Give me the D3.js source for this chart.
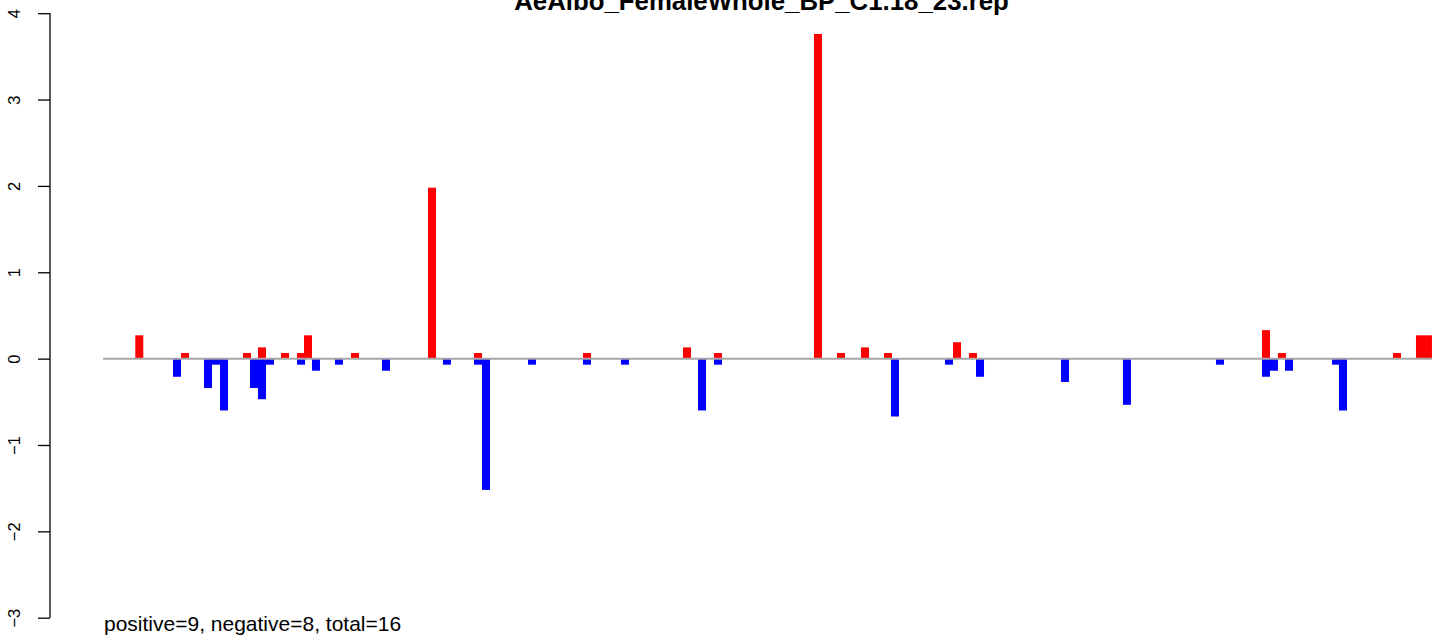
<!DOCTYPE html>
<html>
<head>
<meta charset="utf-8">
<script src="https://cdn.jsdelivr.net/npm/d3@7"></script>
<style>
  html, body { margin: 0; padding: 0; background: #fff; }
  svg { display: block; font-family: "Liberation Sans", Arial, Helvetica, sans-serif; }
</style>
</head>
<body>
<svg id="chart" width="1441" height="638"></svg>
<script>
// ---- data ----
const title = "AeAlbo_FemaleWhole_BP_C1.18_23.rep";
const footnote = "positive=9, negative=8, total=16";
const yTicks = [-3, -2, -1, 0, 1, 2, 3, 4];

// positive (red) bars: position, value
const posPositions = [4.21, 10.17, 18.26, 20.21, 23.21, 25.30, 26.21, 32.34, 42.38, 48.38,
                      62.59, 75.63, 79.67, 92.71, 95.71, 98.84, 101.84, 110.84, 112.92,
                      151.13, 153.21, 168.21, 171.21, 172.25];
const posValues    = [0.27, 0.065, 0.065, 0.13, 0.065, 0.065, 0.27, 0.065, 1.98, 0.065,
                      0.065, 0.13, 0.065, 3.76, 0.065, 0.13, 0.065, 0.19, 0.065,
                      0.33, 0.065, 0.065, 0.27, 0.27];

// negative (blue) bars: position, value
const negPositions = [9.13, 13.17, 14.21, 15.26, 19.17, 20.21, 21.25, 25.30, 27.25, 30.25,
                      36.38, 44.33, 48.38, 49.42, 55.42, 62.59, 67.54, 77.59, 79.67,
                      102.75, 109.79, 113.84, 124.92, 133.0, 145.13, 151.13, 152.17,
                      154.13, 160.26, 161.17];
const negValues    = [-0.21, -0.34, -0.07, -0.60, -0.34, -0.47, -0.07, -0.07, -0.14, -0.07,
                      -0.14, -0.07, -0.07, -1.52, -0.07, -0.07, -0.07, -0.60, -0.07,
                      -0.67, -0.07, -0.21, -0.27, -0.535, -0.07, -0.21, -0.14,
                      -0.14, -0.07, -0.60];

const xDomain = [0, 173.3];
const yDomain = [-3, 4];

// ---- drawing ----
const svg = d3.select("#chart");
const x = d3.scaleLinear().domain(xDomain).range([103, 1432]);
const y = d3.scaleLinear().domain(yDomain).range([617.7, 13.2]);
const barW = 8;

const pos = posPositions.map((p, i) => ({p, v: posValues[i]}));
const neg = negPositions.map((p, i) => ({p, v: negValues[i]}));

svg.append("g").selectAll("rect").data(pos).join("rect")
  .attr("x", d => x(d.p)).attr("width", barW)
  .attr("y", d => y(d.v)).attr("height", d => y(0) - y(d.v))
  .attr("fill", "#FF0000");

svg.append("g").selectAll("rect").data(neg).join("rect")
  .attr("x", d => x(d.p)).attr("width", barW)
  .attr("y", y(0)).attr("height", d => y(d.v) - y(0))
  .attr("fill", "#0000FF");

// zero line
svg.append("line")
  .attr("x1", x(xDomain[0])).attr("x2", x(xDomain[1]))
  .attr("y1", y(0)).attr("y2", y(0))
  .attr("stroke", "#A6A6A6").attr("stroke-width", 2);

// y axis
const axis = svg.append("g").attr("transform", "translate(50,0)")
  .call(d3.axisLeft(y).tickValues(yTicks).tickSize(12).tickPadding(0).tickFormat(d3.format("d")));
axis.select(".domain").attr("stroke", "#000").attr("stroke-width", 1.3)
  .attr("d", `M0,${y(yDomain[0])}V${y(yDomain[1])}`);
axis.selectAll(".tick line").attr("stroke", "#000").attr("stroke-width", 1.3);
axis.selectAll(".tick text")
  .attr("x", null).attr("dy", null)
  .attr("transform", "translate(-30,0) rotate(-90)")
  .attr("text-anchor", "middle")
  .attr("font-size", 16.5)
  .attr("font-family", "Liberation Sans, Arial, sans-serif")
  .attr("fill", "#000");

// title
svg.append("text")
  .attr("x", 761.5).attr("y", 10)
  .attr("text-anchor", "middle")
  .attr("font-weight", "bold")
  .attr("font-size", 25.8)
  .text(title);

// footnote
svg.append("text")
  .attr("x", 104).attr("y", 631)
  .attr("font-size", 21)
  .text(footnote);
</script>
</body>
</html>
